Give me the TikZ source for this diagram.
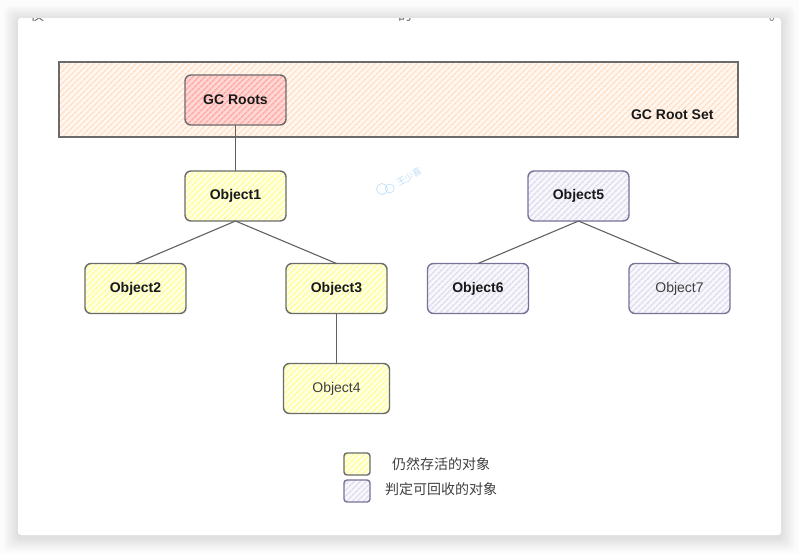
\documentclass[tikz,border=0pt]{standalone}
\usepackage{fontspec}
\setmainfont{Liberation Sans}
\newfontfamily\cjk{Noto Sans CJK SC}
\usetikzlibrary{positioning,patterns.meta}
\definecolor{setfill}{HTML}{FFF7F0}
\definecolor{sethatch}{HTML}{FFE0C8}
\definecolor{rootfill}{HTML}{FFD8D5}
\definecolor{roothatch}{HTML}{FFADA8}
\definecolor{livefill}{HTML}{FFFFE8}
\definecolor{livehatch}{HTML}{FFFF99}
\definecolor{deadfill}{HTML}{F8F7FC}
\definecolor{deadhatch}{HTML}{E0DEEF}
\definecolor{deadline}{HTML}{7A7298}
\definecolor{markblue}{HTML}{BFE0FA}

\begin{document}
\begin{tikzpicture}[
    x=1pt, y=-1pt,
    every node/.style={font=\fontsize{14pt}{16pt}\selectfont\bfseries, text=black!90},
    % hatched boxes
    hatched/.style n args={2}{preaction={fill=#1},
        pattern={Lines[angle=45,distance=4pt,line width=1.7pt]}, pattern color=#2},
    objbox/.style={draw=black!58, line width=1.4pt, rounded corners=6pt,
        minimum width=101pt, minimum height=50pt, inner sep=0pt, outer sep=0pt},
    root/.style={objbox, hatched={rootfill}{roothatch}},
    live/.style={objbox, hatched={livefill}{livehatch}},
    dead/.style={objbox, draw=deadline, hatched={deadfill}{deadhatch}},
    plain/.style={font=\fontsize{14pt}{16pt}\selectfont, text=black!75},
    link/.style={draw=black!62, line width=1.1pt},
    cjklabel/.style={font=\cjk\fontsize{14pt}{16pt}\selectfont, text=black!75},
    node distance=42.5pt
]

% ==================== PAGE AND CARD ====================
\fill[black!1] (0,0) rectangle (799,554);
\foreach \s in {14,12,10,8,6,4,2}
    \fill[black, opacity=0.014, rounded corners=6pt] (18-\s,18-\s+2) rectangle (781+\s,535+\s+2);
\fill[white, rounded corners=3pt] (18,18) rectangle (781,535);

% cut-off line of text at the top edge of the card
\begin{scope}
    \clip (18,18) rectangle (781,24);
    \node[cjklabel, text=black!60, anchor=south] (cutleft) at (37,25) {仅};
    \node[cjklabel, text=black!60, anchor=south] (cutmid) at (405,25) {的};
    \node[cjklabel, text=black!60, anchor=south] (cutright) at (776,25) {。};
\end{scope}

% ==================== GC ROOT SET ====================
\node[draw=black!58, line width=1.6pt, inner sep=0pt, outer sep=0pt, minimum width=679pt, minimum height=75pt,
    hatched={setfill}{sethatch}] (rootset) at (398.5,99.5) {};
\node[anchor=east] (setlabel) at (717,115) {GC Root Set};

% ==================== OBJECTS ====================
\node[root] (gcroots) at (235.5,100) {GC Roots};
\node[live, below=46pt of gcroots] (obj1) {Object1};
\node[live, below=of obj1, xshift=-100pt] (obj2) {Object2};
\node[live, below=of obj1, xshift=101pt] (obj3) {Object3};
\node[live, below=50pt of obj3, minimum width=106pt, plain] (obj4) {Object4};
\node[dead, right=242pt of obj1] (obj5) {Object5};
\node[dead, below=of obj5, xshift=-100.5pt] (obj6) {Object6};
\node[dead, below=of obj5, xshift=101pt, plain] (obj7) {Object7};

% edges
\foreach \a/\b in {gcroots/obj1, obj1/obj2, obj1/obj3, obj3/obj4, obj5/obj6, obj5/obj7}
    \draw[link] (\a.south) -- (\b.north);

% ==================== WATERMARK ====================
\node[draw=markblue, circle, minimum size=11pt, inner sep=0pt, line width=0.7pt] (bubble1) at (382,189) {};
\node[draw=markblue, circle, minimum size=9pt, inner sep=0pt, line width=0.7pt, right=-3pt of bubble1, yshift=0.5pt] (bubble2) {};
\node[font=\cjk\fontsize{9pt}{9pt}\selectfont, text=markblue, rotate=30] (mark) at (409,177) {王少喜};

% ==================== LEGEND ====================
\node[live, minimum width=26pt, minimum height=22pt, rounded corners=3pt] (keylive) at (357,464) {};
\node[dead, minimum width=26pt, minimum height=22pt, rounded corners=3pt, below=5pt of keylive] (keydead) {};
\node[cjklabel] (livelabel) at (441,464) {仍然存活的对象};
\node[cjklabel] (deadlabel) at (441,489) {判定可回收的对象};

\useasboundingbox (0,0) rectangle (799,554);
\end{tikzpicture}
\end{document}
